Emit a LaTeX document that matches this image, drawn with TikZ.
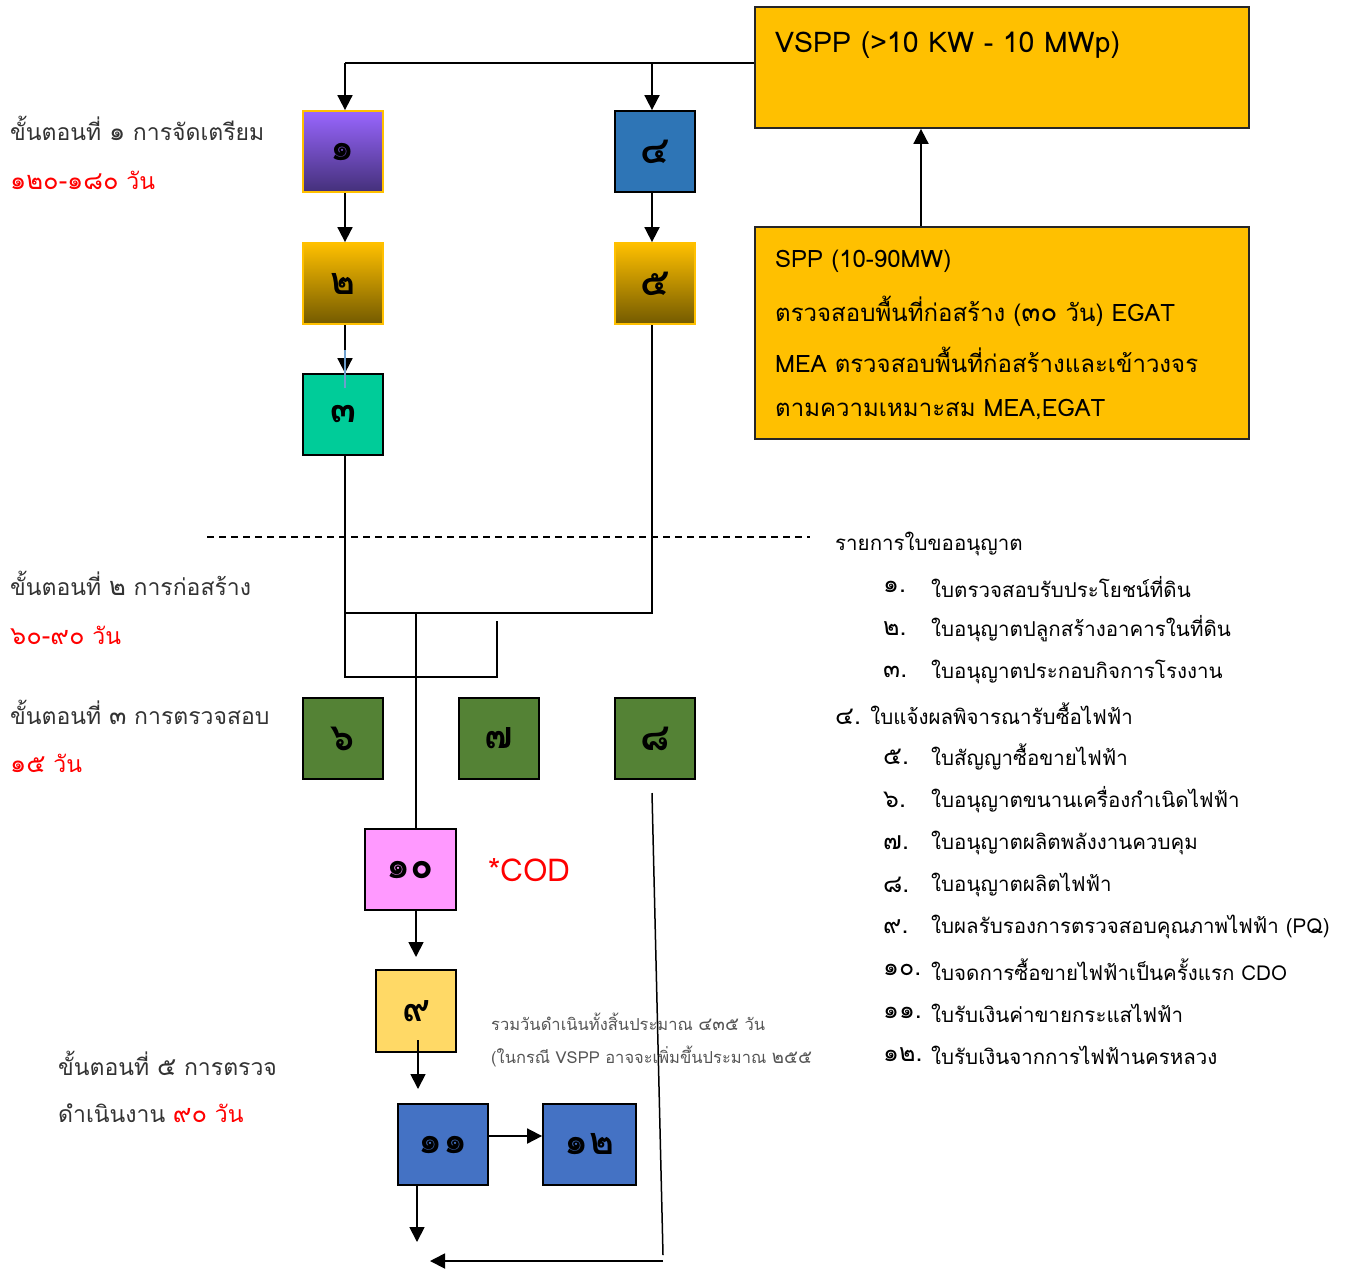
\documentclass[tikz,border=0pt]{standalone}
\usepackage{fontspec}
\setmainfont[Script=Thai]{Loma}
\usetikzlibrary{arrows.meta,calc}
\definecolor{gold}{HTML}{FFC000}
\definecolor{purpT}{HTML}{9966FF}
\definecolor{purpB}{HTML}{44307A}
\definecolor{brownB}{HTML}{735A00}
\definecolor{blueA}{HTML}{2E75B6}
\definecolor{blueB}{HTML}{4472C4}
\definecolor{teal}{HTML}{00CC99}
\definecolor{greenA}{HTML}{548235}
\definecolor{pinkA}{HTML}{FF99FF}
\definecolor{yellowA}{HTML}{FFD966}
\definecolor{txtgrey}{HTML}{333333}
\definecolor{notegrey}{HTML}{555555}
\definecolor{redA}{HTML}{FF0000}
\newcommand{\dg}[1]{{\fontsize{25.5}{26}\selectfont #1}}
\begin{document}
\begin{tikzpicture}[x=1pt,y=-1pt,
  box/.style={draw=black, line width=1.8pt, minimum width=80pt, minimum height=81pt, inner sep=0pt,
     font=\fontsize{38}{40}\selectfont\bfseries},
  bigbox/.style={draw=black!85, line width=1.8pt, fill=gold, inner sep=0pt, minimum width=494pt},
  con/.style={line width=1.8pt, draw=black},
  arr/.style={con, -{Triangle[width=15pt,length=15pt]}},
  lbl/.style={anchor=west, inner sep=0pt, text=txtgrey, font=\fontsize{23}{27}\selectfont},
  red/.style={anchor=west, inner sep=0pt, text=redA, font=\fontsize{23}{27}\selectfont},
  lst/.style={anchor=west, inner sep=0pt, text=black, font=\fontsize{20.5}{25}\selectfont},
  num/.style={anchor=west, inner sep=0pt, text=black, font=\fontsize{25}{25}\selectfont},
  spp/.style={anchor=west, inner sep=0pt, text=black, font=\fontsize{24}{28}\selectfont},
  note/.style={anchor=west, inner sep=0pt, text=notegrey, font=\fontsize{16.5}{20}\selectfont}
]
\useasboundingbox (0,0) rectangle (1351,1269);

% big boxes
\node[bigbox, minimum height=121pt] (vspp) at (1002,67.5) {};
\node[spp, font=\fontsize{28.5}{32}\selectfont] (vsppt) at (775,45) {VSPP (>10 KW - 10 MWp)};
\node[bigbox, minimum height=212pt] (spp) at (1002,333) {};
\node[spp] (s1) at (775,261) {SPP (10-90MW)};
\node[spp] (s2) at (775,311) {ตรวจสอบพื้นที่ก่อสร้าง ({\fontsize{28}{28}\selectfont ๓๐} วัน) EGAT};
\node[spp] (s3) at (775,360) {MEA ตรวจสอบพื้นที่ก่อสร้างและเข้าวงจร};
\node[spp] (s4) at (775,410) {ตามความเหมาะสม MEA,EGAT};

% step boxes
\node[box, draw=gold, top color=purpT, bottom color=purpB] (b1) at (343,151.5) {๑};
\node[box, draw=gold, top color=gold, bottom color=brownB] (b2) at (343,283.5) {๒};
\node[box, fill=teal] (b3) at (343,414.5) {๓};
\node[box, fill=blueA] (b4) at (655,151.5) {๔};
\node[box, draw=gold, top color=gold, bottom color=brownB] (b5) at (655,283.5) {๕};
\node[box, fill=greenA] (b6) at (343,738.5) {๖};
\node[box, fill=greenA] (b7) at (499,738.5) {๗};
\node[box, fill=greenA] (b8) at (655,738.5) {๘};
\node[box, fill=pinkA, minimum width=91pt] (b10) at (410.5,869.5) {๑๐};
\node[box, fill=yellowA, minimum height=82pt] (b9) at (416,1011) {๙};
\node[box, fill=blueB, minimum width=90pt] (b11) at (443,1144.5) {๑๑};
\node[box, fill=blueB, minimum width=93pt] (b12) at (589.5,1144.5) {๑๒};
\node[anchor=west, inner sep=0pt, text=redA, font=\fontsize{31.5}{35}\selectfont] (cod) at (488,870) {*COD};

% connectors
\coordinate (j) at (755,63);
\coordinate (j1) at (345,63);
\coordinate (j4) at (652,63);
\draw[con] (vspp.west |- j) -- (j1);
\draw[arr] (j1) -- (j1 |- b1.north);
\draw[arr] (j4) -- (j4 |- b4.north);
\draw[arr] (spp.north -| 921,0) -- (vspp.south -| 921,0);
\draw[arr] (j1 |- b1.south) -- (j1 |- b2.north);
\draw[arr] (j4 |- b4.south) -- (j4 |- b5.north);
\draw[arr] (j1 |- b2.south) -- (j1 |- b3.north);
\draw[line width=1.2pt, draw=blueA!70] (345,350) -- (345,388);

\coordinate (m1) at (345,613);
\coordinate (m2) at (652,613);
\coordinate (m3) at (416,613);
\draw[con] (j1 |- b3.south) -- (m1) -- (m2) -- (j4 |- b5.south);
\draw[con, line width=1.5pt] (m1) -- (345,677) -- (497,677) -- (497,621);
\draw[con] (m3) -- (m3 |- b10.north);
\draw[arr] (m3 |- b10.south) -- (416,957);
\coordinate (q1) at (418,1040);
\draw[arr] (q1) -- (418,1089);
\draw[arr] (b11.east |- 0,1136) -- (b12.west |- 0,1136);
\draw[arr] (417,1185) -- (417,1242);
\coordinate (p1) at (652,793);
\coordinate (p2) at (663,1255);
\coordinate (p4) at (430,1261);
\draw[con, line width=1.5pt] (p1) -- (p2);
\draw[arr] (663,1261) -- (p4);

% dashed divider
\draw[line width=1.5pt, dash pattern=on 7pt off 5pt] (207,537) -- (810,537);

% left labels
\node[lbl] (l1) at (10,128) {ขั้นตอนที่ \dg{๑} การจัดเตรียม};
\node[red] (d1) at (10,180) {\dg{๑๒๐-๑๘๐} วัน};
\node[lbl] (l2) at (10,583) {ขั้นตอนที่ \dg{๒} การก่อสร้าง};
\node[red] (d2) at (10,635) {\dg{๖๐-๙๐} วัน};
\node[lbl] (l3) at (10,712) {ขั้นตอนที่ \dg{๓} การตรวจสอบ};
\node[red] (d3) at (10,763) {\dg{๑๕} วัน};
\node[lbl] (l5) at (58,1063) {ขั้นตอนที่ \dg{๕} การตรวจ};
\node[lbl] (d5) at (58,1113) {ดำเนินงาน \textcolor{redA}{\dg{๙๐} วัน}};

% notes
\node[note] (n1) at (491,1022) {รวมวันดำเนินทั้งสิ้นประมาณ {\fontsize{18.5}{19}\selectfont ๔๓๕} วัน};
\begin{scope}
\clip (480,1030) rectangle (817,1080);
\node[note] (n2) at (491,1056) {(ในกรณี VSPP อาจจะเพิ่มขึ้นประมาณ {\fontsize{18.5}{19}\selectfont ๒๕๕} วัน)};
\end{scope}

% permit list
\node[lst] (h) at (835,544) {รายการใบขออนุญาต};
\foreach \y/\n/\t in {587/๑./ใบตรวจสอบรับประโยชน์ที่ดิน, 629/๒./ใบอนุญาตปลูกสร้างอาคารในที่ดิน, 672/๓./ใบอนุญาตประกอบกิจการโรงงาน,
  757/๕./ใบสัญญาซื้อขายไฟฟ้า, 800/๖./ใบอนุญาตขนานเครื่องกำเนิดไฟฟ้า, 843/๗./ใบอนุญาตผลิตพลังงานควบคุม,
  885/๘./ใบอนุญาตผลิตไฟฟ้า, 927/๙./ใบผลรับรองการตรวจสอบคุณภาพไฟฟ้า (PQ), 970/๑๐./ใบจดการซื้อขายไฟฟ้าเป็นครั้งแรก CDO,
  1013/๑๑./ใบรับเงินค่าขายกระแสไฟฟ้า, 1055/๑๒./ใบรับเงินจากการไฟฟ้านครหลวง}{
  \node[num] at (883,\y) {\n};
  \node[lst] at (931,\y) {\t};
}
\node[lst] (i4) at (835,714) {{\fontsize{25}{25}\selectfont ๔.} ใบแจ้งผลพิจารณารับซื้อไฟฟ้า};
\end{tikzpicture}
\end{document}
